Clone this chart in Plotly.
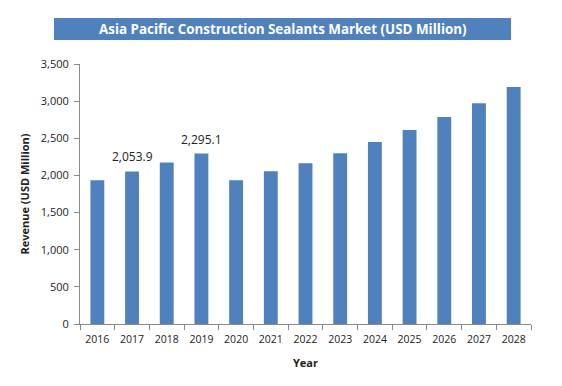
import plotly.graph_objects as go

years = ["2016", "2017", "2018", "2019", "2020", "2021", "2022", "2023", "2024", "2025", "2026", "2027", "2028"]
revenue = [1935, 2053.9, 2175, 2295.1, 1935, 2055, 2165, 2300, 2450, 2610, 2785, 2970, 3190]
label_years = ["2017", "2019"]
label_values = [2053.9, 2295.1]
label_texts = ["2,053.9", "2,295.1"]
y_ticks = [0, 500, 1000, 1500, 2000, 2500, 3000, 3500]
title_text = "Asia Pacific Construction Sealants Market (USD Million)"

W, H = 562, 386
L, R, T, B = 80, 31, 64, 62
PW, PH = W - L - R, H - T - B
BX0, BX1, BY0, BY1 = 54, 511, 18, 40

fig = go.Figure()
fig.add_trace(go.Bar(
    x=years, y=revenue,
    marker=dict(color="#4F81BD", line=dict(width=0)),
))

annotations = [dict(text="<b>" + title_text + "</b>", xref="paper", yref="paper",
                    x=((BX0 + BX1) / 2 - L) / PW,
                    y=(H - B - (BY0 + BY1) / 2) / PH,
                    showarrow=False, font=dict(size=13.4, color="white", family="Open Sans"),
                    xanchor="center", yanchor="middle")]
for yr, v, t in zip(label_years, label_values, label_texts):
    annotations.append(dict(x=years.index(yr), y=v, xref="x", yref="y", text=t,
                            showarrow=False, yanchor="bottom", yshift=4,
                            font=dict(size=12, color="#222222", family="Open Sans")))

fig.update_layout(
    width=W, height=H,
    margin=dict(l=L, r=R, t=T, b=B, autoexpand=False),
    plot_bgcolor="white", paper_bgcolor="white",
    bargap=0.6,
    showlegend=False,
    font=dict(family="Open Sans", size=11, color="#222222"),
    shapes=[dict(type="rect", xref="paper", yref="paper",
                 x0=(BX0 - L) / PW, x1=(BX1 - L) / PW,
                 y0=(H - B - BY1) / PH, y1=(H - B - BY0) / PH,
                 fillcolor="#4F81BD", line=dict(width=0), layer="above")],
    annotations=annotations,
)

fig.update_xaxes(
    type="category",
    title=dict(text="<b>Year</b>", font=dict(size=11), standoff=14),
    showline=True, linecolor="#898989", linewidth=1,
    ticks="outside", tickson="boundaries", ticklen=5, tickcolor="#898989",
    tickangle=0, tickfont=dict(size=10.5), ticklabelstandoff=5,
    showgrid=False, automargin=False,
)
fig.update_yaxes(
    title=dict(text="<b>Revenue (USD Million)</b>", font=dict(size=11), standoff=8),
    range=[0, 3500], tickvals=y_ticks, tickformat=",",
    showline=True, linecolor="#898989", linewidth=1,
    ticks="outside", ticklen=5, tickcolor="#898989", ticklabelstandoff=3,
    showgrid=False, zeroline=False, automargin=False,
)

fig.write_html("out.html", config={"displayModeBar": False},
               post_script="document.body.style.margin='0';")
